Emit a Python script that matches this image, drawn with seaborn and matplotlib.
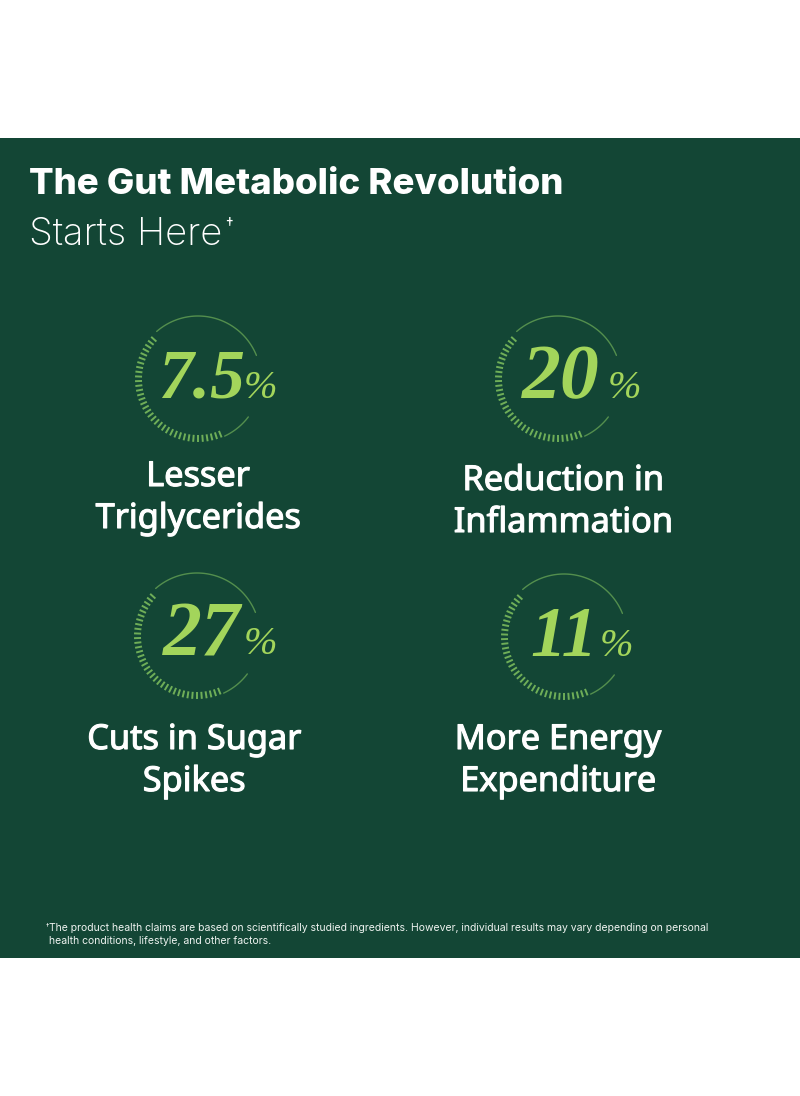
import numpy as np
import pandas as pd
import matplotlib
matplotlib.use('Agg')
import matplotlib.pyplot as plt
import matplotlib.patheffects as pe
import seaborn as sns
from matplotlib.collections import LineCollection
from matplotlib.patches import Rectangle

# ---- content ----
title_bold = 'The Gut Metabolic Revolution'
title_light = 'Starts Here'
stat_values = ['7.5', '20', '27', '11']
stat_labels = [['Lesser', 'Triglycerides'],
               ['Reduction in', 'Inflammation'],
               ['Cuts in Sugar', 'Spikes'],
               ['More Energy', 'Expenditure']]
footnote = ['The product health claims are based on scientifically studied ingredients. However, individual results may vary depending on personal',
            'health conditions, lifestyle, and other factors.']

# ---- layout (pixels) ----
ring_x = [198, 558, 197, 564]
ring_y = [379, 379, 636, 637]
value_x = [202, 561, 202, 564]
value_size = [50, 56, 56, 51]
pct_x = [260, 624, 260, 616]
label_x = [198, 563, 194, 558]
label_y = [[477, 519], [481, 523], [740, 782], [740, 782]]

BG = '#134635'
GREEN = '#a3d55b'
RING = '#6fae58'

sns.set_theme(style='white')
plt.rcParams['font.family'] = ['Inter', 'DejaVu Sans']

fig = plt.figure(figsize=(8, 10.96), dpi=100, facecolor='white')
ax = fig.add_axes([0, 0, 1, 1])
ax.set_xlim(0, 800)
ax.set_ylim(1096, 0)
ax.axis('off')
ax.add_patch(Rectangle((0, 138), 800, 820, color=BG, lw=0))

ax.text(29, 184, title_bold, color='white', fontsize=26.35, fontweight='heavy', va='center', ha='left')
ax.text(29, 235, title_light, color='white', fontsize=27.5, fontweight='light', va='center', ha='left')
ax.text(225, 225, '†', color='white', fontsize=11, va='center', ha='left')


def draw_ring(cx, cy, r=63):
    # thin arcs, then the tick band
    for a0, a1 in [(131, 22), (-37, -65)]:
        t = np.radians(np.linspace(a0, a1, 60))
        arc = pd.DataFrame({'x': cx + r * np.cos(t), 'y': cy - r * np.sin(t)})
        sns.lineplot(data=arc, x='x', y='y', sort=False, estimator=None, color=RING,
                     linewidth=1.0, alpha=0.7, ax=ax, legend=False)
    segs = []
    for a in np.radians(np.arange(-68, -223, -4.4)):
        segs.append([(cx + (r - 7) * np.cos(a), cy - (r - 7) * np.sin(a)),
                     (cx + r * np.cos(a), cy - r * np.sin(a))])
    ax.add_collection(LineCollection(segs, colors=RING, linewidths=1.4))


# Noto Sans only ships regular/bold here, so thicken the regular a little
thicker = [pe.withStroke(linewidth=0.8, foreground='white')]

for i, val in enumerate(stat_values):
    draw_ring(ring_x[i], ring_y[i])
    ax.text(value_x[i], ring_y[i] + 1, val, color=GREEN, fontsize=value_size[i], family='Liberation Serif',
            fontweight='bold', fontstyle='italic', ha='center', va='center')
    ax.text(pct_x[i], ring_y[i] + 9, '%', color=GREEN, fontsize=29, family='Liberation Serif',
            fontstyle='italic', ha='center', va='center')
    for line, ly in zip(stat_labels[i], label_y[i]):
        ax.text(label_x[i], ly, line, color='white', fontsize=24.7, family='Noto Sans',
                ha='center', va='center', path_effects=thicker)

ax.text(46, 925, '†', color='white', fontsize=5, va='center')
ax.text(49, 928, footnote[0], color='#eef3f0', fontsize=7.53, va='center')
ax.text(49, 941, footnote[1], color='#eef3f0', fontsize=7.53, va='center')

fig.savefig('out.png', dpi=100, facecolor='white')
